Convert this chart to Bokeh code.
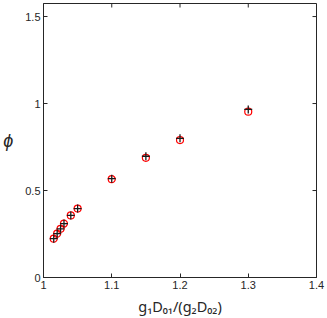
import math
from bokeh.plotting import figure
from bokeh.models import LinearAxis, FixedTicker, Range1d
from bokeh.embed import file_html
from bokeh.resources import INLINE

x_vals = [1.015, 1.02, 1.025, 1.03, 1.04, 1.05, 1.1, 1.15, 1.2, 1.3]
phi_red = [0.223, 0.252, 0.28, 0.31, 0.357, 0.396, 0.565, 0.688, 0.79, 0.953]
phi_black = [0.223, 0.252, 0.28, 0.31, 0.357, 0.396, 0.568, 0.697, 0.80, 0.966]
x_ticks = [1.0, 1.1, 1.2, 1.3, 1.4]
x_tick_labels = ["1", "1.1", "1.2", "1.3", "1.4"]
y_ticks = [0.0, 0.5, 1.0, 1.5]
y_tick_labels = ["0", "0.5", "1", "1.5"]
x_min, x_max = 1.0, 1.4
y_min, y_max = 0.0, 1.575
x_label = "g\u2081D\u2080\u2081/(g\u2082D\u2080\u2082)"
y_label = "\u03d5"

AX = "#262626"
FONT = "Liberation Sans"

p = figure(width=327, height=318, output_backend="svg", toolbar_location=None,
           x_range=Range1d(x_min, x_max), y_range=Range1d(y_min, y_max),
           x_axis_location=None, y_axis_location=None,
           min_border_left=42, min_border_right=11, min_border_top=3, min_border_bottom=41)
p.grid.visible = False
p.outline_line_color = AX
p.outline_line_width = 1
p.background_fill_color = "white"
p.border_fill_color = "white"

def style(ax):
    ax.axis_line_color = AX
    ax.major_tick_line_color = AX
    ax.major_tick_in = 4
    ax.major_tick_out = 0
    ax.minor_tick_line_color = None
    ax.major_label_text_font = FONT
    ax.major_label_text_font_size = "11px"
    ax.major_label_text_color = AX
    ax.axis_label_text_font = FONT
    ax.axis_label_text_color = AX
    ax.axis_label_text_font_style = "normal"

xb = LinearAxis(ticker=FixedTicker(ticks=x_ticks),
                major_label_overrides=dict(zip(x_ticks, x_tick_labels)),
                axis_label=x_label)
style(xb)
xb.major_label_standoff = 3
xb.axis_label_text_font = "Noto Sans"
xb.axis_label_text_font_size = "14.5px"
xb.axis_label_standoff = 4
p.add_layout(xb, "below")

yl = LinearAxis(ticker=FixedTicker(ticks=y_ticks),
                major_label_overrides=dict(zip(y_ticks, y_tick_labels)),
                axis_label=y_label)
style(yl)
yl.axis_label_text_font_size = "18px"
yl.axis_label_text_font_style = "italic"
yl.axis_label_orientation = "horizontal"
yl.major_label_standoff = 3
yl.axis_label_standoff = 9
p.add_layout(yl, "left")

# inward ticks on the top and right edges of the box
p.ray(x=[x_max] * len(y_ticks), y=y_ticks, length=4, length_units="screen",
      angle=math.pi, line_color=AX, line_width=1)
p.ray(x=x_ticks, y=[y_max] * len(x_ticks), length=4, length_units="screen",
      angle=-math.pi / 2, line_color=AX, line_width=1)

p.scatter(x_vals, phi_red, marker="circle", size=7, fill_color=None,
          line_color="#ff0000", line_width=1.2)
p.scatter(x_vals, phi_black, marker="cross", size=8, line_color="#1a1a1a",
          line_width=1.3)

open("out.html", "w").write(file_html(p, INLINE))
